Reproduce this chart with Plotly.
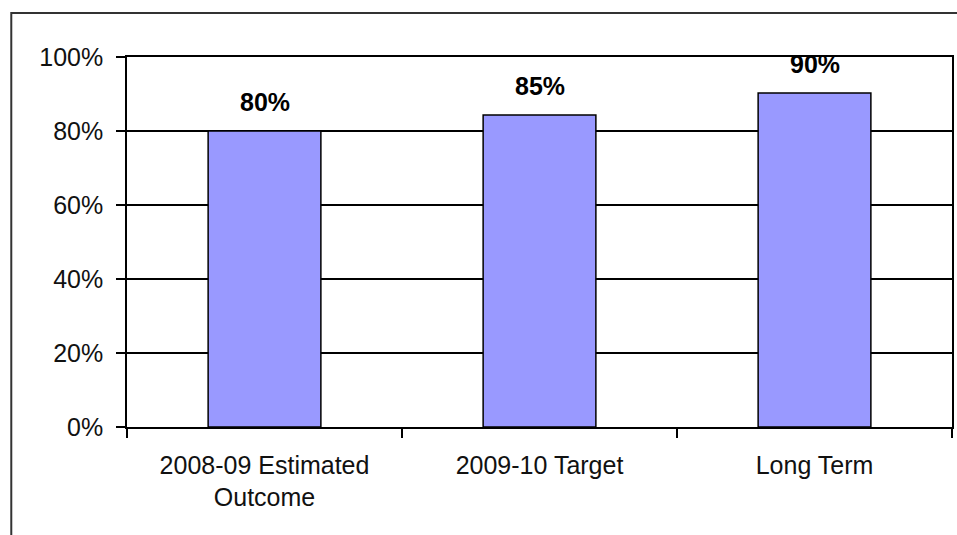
import plotly.graph_objects as go

categories = ["2008-09 Estimated<br>Outcome", "2009-10 Target", "Long Term"]
values = [80, 84.3, 90.3]
value_labels = ["80%", "85%", "90%"]
y_ticks = [0, 20, 40, 60, 80, 100]
y_tick_labels = ["0%", "20%", "40%", "60%", "80%", "100%"]

W, H = 957, 535
L, R, T, B = 127, 3, 57, 108
pw, ph = W - L - R, H - T - B

FONT = "Liberation Sans, Arial, sans-serif"
FS = 25

fig = go.Figure()
fig.add_trace(go.Bar(
    x=categories, y=values,
    marker=dict(color="#9999FF", line=dict(color="#000000", width=1.5)),
    width=0.41,
    hoverinfo="skip",
))

for c, v, t in zip(categories, values, value_labels):
    fig.add_annotation(x=c, y=v, text="<b>" + t + "</b>", showarrow=False,
                       yanchor="bottom", yshift=13,
                       font=dict(family=FONT, size=FS, color="#000000"))

# outer chart border (clipped at right/bottom of picture)
fig.add_shape(type="rect", xref="paper", yref="paper",
              x0=(11 - L) / pw, x1=(W + 20 - L) / pw,
              y0=-(B + 20) / ph, y1=1 + (T - 13) / ph,
              line=dict(color="#333333", width=2), layer="below")

fig.update_layout(
    width=W, height=H,
    margin=dict(l=L, r=R, t=T, b=B, pad=0),
    paper_bgcolor="white", plot_bgcolor="white",
    showlegend=False,
    font=dict(family=FONT, size=FS, color="#111111"),
    xaxis=dict(
        type="category", showline=True, linecolor="#000000", linewidth=1.5,
        mirror=True, ticks="outside", tickson="boundaries", ticklen=9,
        tickcolor="#000000", tickwidth=1.5, showgrid=False,
        tickfont=dict(family=FONT, size=FS, color="#111111"),
        ticklabelstandoff=15,
    ),
    yaxis=dict(
        range=[0, 100], tickvals=y_ticks, ticktext=y_tick_labels,
        showline=True, linecolor="#000000", linewidth=1.5, mirror=True,
        ticks="outside", ticklen=9, tickcolor="#000000", tickwidth=1.5,
        showgrid=True, gridcolor="#000000", gridwidth=1.5, zeroline=False,
        tickfont=dict(family=FONT, size=FS, color="#111111"),
        ticklabelstandoff=8,
    ),
)

fig.write_html("out.html")
